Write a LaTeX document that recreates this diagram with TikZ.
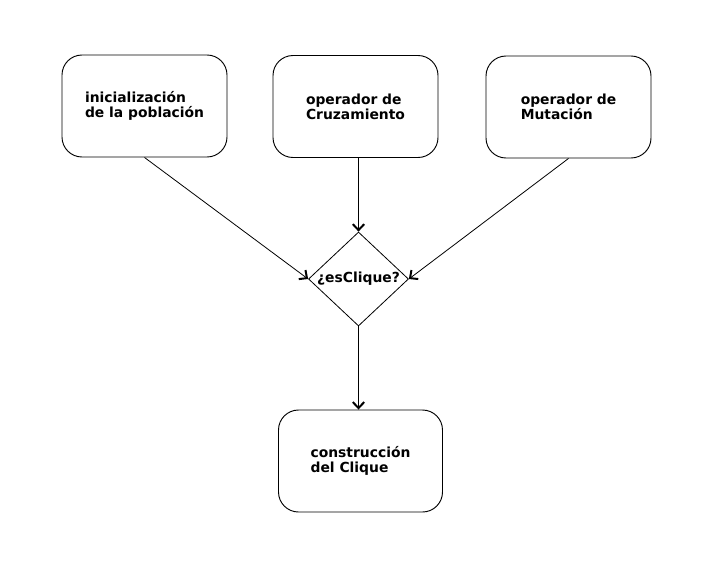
\documentclass[tikz,border=0pt]{standalone}
\usepackage{fontspec}
\setmainfont{DejaVu Sans}
\usepackage{tikz}
\usetikzlibrary{shapes.geometric}
\usetikzlibrary{arrows.meta}

\tikzset{
	paso/.style={draw, rounded corners=15pt, minimum width=123.75pt, minimum height=76.5pt, align=left, font=\bfseries\fontsize{10.4}{11.25}\selectfont, line width=0.7pt},
	decision/.style={draw, diamond, minimum width=75pt, minimum height=70.5pt, inner sep=0pt, line width=0.6pt},
	flecha/.style={line width=0.6pt, -{Straight Barb[length=4.5pt, width=8.5pt, line width=1.5pt]}}
}

\begin{document}
\begin{tikzpicture}[x=0.75pt, y=-0.75pt]
		\useasboundingbox (0, 0) rectangle (716, 579);

		\node[paso] (ini) at (144.5, 106) {inicialización\\de la población};
		\node[paso] (cru) at (355.5, 106.5) {operador de\\Cruzamiento};
		\node[paso] (mut) at (568.5, 107) {operador de\\Mutación};
		\node[decision, label={[font=\bfseries\fontsize{10.4}{11.25}\selectfont]center:¿esClique?}] (esc) at (358.5, 279) {};
		\node[paso, minimum width=123pt] (con) at (360.5, 461) {construcción\\del Clique};

		\draw[flecha] (ini.south) -- (esc.west);
		\draw[flecha] (cru.south -| esc.north) -- (esc.north);
		\draw[flecha] (mut.south) -- (esc.east);
		\draw[flecha] (esc.south) -- (esc.south |- con.north);
\end{tikzpicture}
\end{document}
